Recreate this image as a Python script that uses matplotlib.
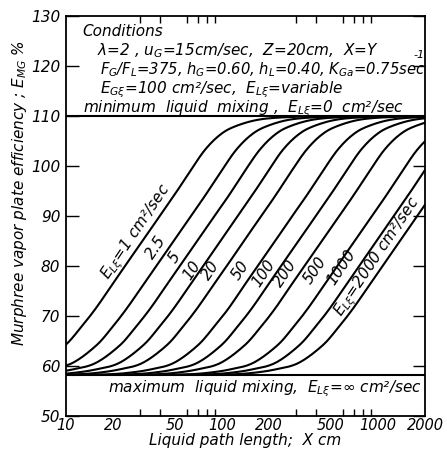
import matplotlib
matplotlib.use("Agg")
import numpy as np
import matplotlib.pyplot as plt
from matplotlib.ticker import FixedLocator, NullFormatter

plt.rcParams['font.family'] = ['DejaVu Sans']
plt.rcParams['font.style'] = 'italic'
plt.rcParams['mathtext.fontset'] = 'dejavusans'
plt.rcParams['mathtext.default'] = 'it'

# ---------------- data ----------------
# efficiency levels E_MG (%) at which each curve's liquid path length X (cm) was read
levels = [58.2, 58.3, 58.6, 59.3, 60.6, 64.0, 67.5, 71.5, 76.0, 80.5,
          85.0, 89.5, 94.0, 98.7, 103.2, 106.3, 108.0, 109.3, 109.8, 110.0]

x_EL1 = [1.55, 2.45, 3.47, 4.90, 6.92, 9.77, 12.3, 15.5, 19.5, 24.5,
         30.9, 38.9, 49.0, 61.7, 77.6, 97.7, 123, 174, 275, 490]
x_EL2_5 = [2.45, 3.89, 5.50, 7.76, 11.0, 15.5, 19.5, 24.5, 30.9, 38.9,
           49.0, 61.7, 77.6, 97.7, 123, 155, 195, 275, 437, 776]
x_EL5 = [3.47, 5.50, 7.76, 11.0, 15.5, 21.9, 27.5, 34.7, 43.7, 55.0,
         69.2, 87.1, 110, 138, 174, 219, 275, 389, 617, 1096]
x_EL10 = [4.90, 7.76, 11.0, 15.5, 21.9, 30.9, 38.9, 49.0, 61.7, 77.6,
          97.7, 123, 155, 195, 245, 309, 389, 550, 871, 1549]
x_EL20 = [6.92, 11.0, 15.5, 21.9, 30.9, 43.7, 55.0, 69.2, 87.1, 110,
          138, 174, 219, 275, 347, 437, 550, 776, 1230, 2188]
x_EL50 = [11.0, 17.4, 24.5, 34.7, 49.0, 69.2, 87.1, 110, 138, 174,
          219, 275, 347, 437, 550, 692, 871, 1230, 1950, 3467]
x_EL100 = [15.5, 24.5, 34.7, 49.0, 69.2, 97.7, 123, 155, 195, 245,
           309, 389, 490, 617, 776, 977, 1230, 1738, 2754, 4898]
x_EL200 = [21.9, 34.7, 49.0, 69.2, 97.7, 138, 174, 219, 275, 347,
           437, 550, 692, 871, 1096, 1380, 1738, 2455, 3890, 6918]
x_EL500 = [35.5, 56.2, 79.4, 112, 158, 224, 282, 355, 447, 562,
           708, 891, 1122, 1413, 1778, 2239, 2818, 3981, 6310, 11220]
x_EL1000 = [49.0, 77.6, 110, 155, 219, 309, 389, 490, 617, 776,
            977, 1230, 1549, 1950, 2455, 3090, 3890, 5495, 8710, 15490]
x_EL2000 = [69.2, 110, 155, 219, 309, 437, 550, 692, 871, 1096,
            1380, 1738, 2188, 2754, 3467, 4365, 5495, 7762, 12300, 21880]

curves = [x_EL1, x_EL2_5, x_EL5, x_EL10, x_EL20, x_EL50,
          x_EL100, x_EL200, x_EL500, x_EL1000, x_EL2000]

curve_labels = [r"$E_{L\xi}$=1 cm²/sec", "2.5", "5", "10", "20", "50",
                "100", "200", "500", "1000", r"$E_{L\xi}$=2000 cm²/sec"]
label_x = [28.3, 38.0, 49.4, 64.4, 85.1, 132, 185, 256, 397, 581, 1000]
label_y = [86.8, 83.8, 81.8, 79.2, 79.2, 79.2, 78.6, 78.6, 79.2, 79.8, 81.8]

E_min_mixing = 110.0
E_max_mixing = 58.2

xtick_vals = [10, 20, 50, 100, 200, 500, 1000, 2000]
xtick_labels = ["10", "20", "50", "100", "200", "500", "1000", "2000"]
xminor_vals = [20, 30, 40, 50, 60, 70, 80, 90, 100,
               200, 300, 400, 500, 600, 700, 800, 900, 1000]
ytick_vals = [50, 60, 70, 80, 90, 100, 110, 120, 130]


def smooth_line(xs, ys, n=12):
    """Catmull-Rom rendering of the read points in (log x, y) space."""
    u = np.log10(np.asarray(xs, float))
    v = np.asarray(ys, float)
    P = np.column_stack([u, v])
    P = np.vstack([2 * P[0] - P[1], P, 2 * P[-1] - P[-2]])
    out = []
    t = np.linspace(0, 1, n, endpoint=False)[:, None]
    for i in range(1, len(P) - 2):
        p0, p1, p2, p3 = P[i - 1], P[i], P[i + 1], P[i + 2]
        seg = 0.5 * ((2 * p1) + (-p0 + p2) * t +
                     (2 * p0 - 5 * p1 + 4 * p2 - p3) * t ** 2 +
                     (-p0 + 3 * p1 - 3 * p2 + p3) * t ** 3)
        out.append(seg)
    out.append(P[-2][None, :])
    S = np.vstack(out)
    return 10 ** S[:, 0], S[:, 1]


# ---------------- figure ----------------
W, H = 447, 454
fig = plt.figure(figsize=(W / 100, H / 100), dpi=100)
ax = fig.add_axes([66 / W, 38 / H, 359 / W, 400 / H])
ax.set_xscale('log')
ax.set_xlim(10, 2000)
ax.set_ylim(50, 130)

for xs in curves:
    sx, sy = smooth_line(xs, levels)
    ax.plot(sx, sy, color='black', lw=1.5, solid_capstyle='round')

ax.axhline(E_min_mixing, color='black', lw=1.5)
ax.axhline(E_max_mixing, color='black', lw=1.5)

for s in ax.spines.values():
    s.set_linewidth(1.3)

ax.xaxis.set_major_locator(FixedLocator(xtick_vals))
ax.set_xticklabels(xtick_labels)
ax.xaxis.set_minor_locator(FixedLocator(xminor_vals))
ax.xaxis.set_minor_formatter(NullFormatter())
ax.tick_params(axis='x', which='major', length=0, pad=1.5, labelsize=10.5)
ax.tick_params(axis='x', which='minor', direction='in', length=5, width=1,
               top=True, bottom=True)
ax.set_yticks(ytick_vals)
ax.tick_params(axis='y', which='major', direction='in', length=9, width=1,
               left=True, right=True, labelsize=11, pad=4)

for t, lx, ly in zip(curve_labels, label_x, label_y):
    ax.text(lx, ly, t, rotation=56, rotation_mode='anchor', ha='center',
            va='center', fontsize=11)


def fpos(x, y):
    return x / W, 1 - y / H


fs = 11
fig.text(*fpos(82, 36), "Conditions", fontsize=fs, ha='left', va='baseline')
fig.text(*fpos(97, 55.5), r"$\lambda$=2 , $u_G$=15cm/sec,  Z=20cm,  X=Y",
         fontsize=fs, ha='left', va='baseline')
fig.text(*fpos(413, 58), "-1", fontsize=8, ha='left', va='baseline')
fig.text(*fpos(100, 74.5), r"$F_G$/$F_L$=375, $h_G$=0.60, $h_L$=0.40, $K_{Ga}$=0.75sec",
         fontsize=10.6, ha='left', va='baseline')
fig.text(*fpos(100, 93), r"$E_{G\xi}$=100 cm²/sec,  $E_{L\xi}$=variable",
         fontsize=fs, ha='left', va='baseline')
fig.text(*fpos(83, 112.5), r"minimum  liquid  mixing ,  $E_{L\xi}$=0  cm²/sec",
         fontsize=fs, ha='left', va='baseline')
fig.text(*fpos(108, 392), r"maximum  liquid mixing,  $E_{L\xi}$=$\infty$ cm²/sec",
         fontsize=fs, ha='left', va='baseline')

fig.text(*fpos(245, 441), "Liquid path length;  X cm", fontsize=11,
         ha='center', va='center')
fig.text(*fpos(20, 193), r"Murphree vapor plate efficiency ; $E_{MG}$ %",
         fontsize=11, ha='center', va='center', rotation=90)

fig.savefig("out.png", dpi=100)
